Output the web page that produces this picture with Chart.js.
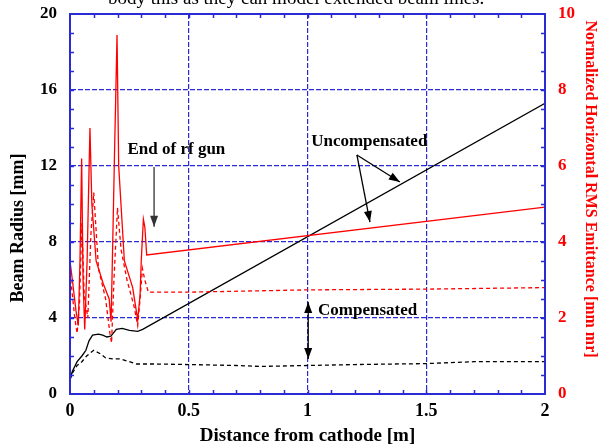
<!DOCTYPE html>
<html>
<head>
<meta charset="utf-8">
<script src="https://cdn.jsdelivr.net/npm/chart.js@4.4.0/dist/chart.umd.min.js"></script>
<style>
  body { margin: 0; background: #fff; }
  #wrap { position: relative; width: 606px; height: 448px; overflow: hidden; }
  #kutipan { position: absolute; left: 108px; top: -12px; font: 19px/20px "Liberation Serif", serif; white-space: nowrap; z-index: 2; }
</style>
</head>
<body>
<div id="wrap">
  <div id="kutipan">body this as they can model extended beam lines.</div>
  <canvas id="beamChart" width="606" height="448"></canvas>
</div>
<script>
// Data
const xTicks = [0, 0.5, 1, 1.5, 2];
const yTicks = [0, 4, 8, 12, 16, 20];
const y2Ticks = [0, 2, 4, 6, 8, 10];

// Emitansi tanpa kompensasi (sumbu kanan)
const xEmitUncomp = [0, 0.01, 0.025, 0.035, 0.042, 0.049, 0.055, 0.062, 0.072, 0.084, 0.092, 0.11, 0.14, 0.165, 0.173, 0.18, 0.188, 0.198, 0.205, 0.229, 0.264, 0.285, 0.295, 0.30, 0.309, 0.315, 0.323, 2.0];
const yEmitUncomp = [3.5, 3.0, 2.2, 1.8, 3.5, 6.2, 3.0, 1.7, 3.5, 7.0, 5.0, 3.5, 2.9, 2.5, 1.9, 4.0, 6.5, 9.45, 6.0, 3.5, 2.8, 1.95, 2.6, 3.5, 4.6, 4.4, 3.66, 4.92];

// Emitansi dengan kompensasi (sumbu kanan)
const xEmitComp = [0, 0.01, 0.02, 0.03, 0.04, 0.05, 0.06, 0.075, 0.088, 0.1, 0.12, 0.15, 0.168, 0.175, 0.185, 0.2, 0.215, 0.24, 0.27, 0.285, 0.295, 0.305, 0.315, 0.33, 0.5, 1.0, 1.5, 2.0];
const yEmitComp = [3.2, 2.6, 2.0, 1.6, 2.4, 4.5, 2.6, 2.0, 4.2, 5.3, 3.3, 2.5, 1.6, 1.35, 3.0, 4.9, 3.8, 3.0, 2.3, 1.8, 2.5, 3.3, 3.0, 2.68, 2.68, 2.74, 2.76, 2.8];

// Radius berkas tanpa kompensasi (sumbu kiri)
const xRadUncomp = [0, 0.01, 0.03, 0.05, 0.067, 0.08, 0.095, 0.12, 0.138, 0.155, 0.172, 0.195, 0.22, 0.25, 0.285, 0.306, 2.0];
const yRadUncomp = [0.75, 1.2, 1.7, 2.0, 2.3, 2.8, 3.1, 3.15, 3.1, 3.0, 3.05, 3.4, 3.45, 3.35, 3.3, 3.4, 15.3];

// Radius berkas dengan kompensasi (sumbu kiri)
const xRadComp = [0, 0.01, 0.03, 0.05, 0.07, 0.1, 0.13, 0.15, 0.18, 0.21, 0.25, 0.28, 0.35, 0.5, 0.7, 0.8, 1.0, 1.2, 1.5, 1.7, 2.0];
const yRadComp = [0.75, 1.1, 1.5, 1.7, 2.0, 2.3, 2.1, 1.9, 1.85, 1.85, 1.7, 1.58, 1.58, 1.55, 1.5, 1.45, 1.5, 1.55, 1.6, 1.7, 1.7];

// Anotasi (koordinat data, sumbu kiri)
const teksAnotasi = [
  { teks: 'End of rf gun', x: 0.448, y: 12.84 },
  { teks: 'Uncompensated', x: 1.26, y: 13.26 },
  { teks: 'Compensated', x: 1.253, y: 4.37 }
];
const panahAnotasi = [
  { x1: 0.354, y1: 11.95, x2: 0.354, y2: 8.8, warna: '#333', ganda: false },
  { x1: 1.208, y1: 12.58, x2: 1.389, y2: 11.16, warna: '#000', ganda: false },
  { x1: 1.208, y1: 12.58, x2: 1.263, y2: 9.05, warna: '#000', ganda: false },
  { x1: 1.003, y1: 4.84, x2: 1.003, y2: 1.84, warna: '#000', ganda: true }
];

const judulKiri = 'Beam Radius [mm]';
const judulKanan = 'Normalized Horizontal RMS Emittance [mm mr]';

const BIRU = '#2b2bd6';
const FONT = '"Liberation Serif", "Times New Roman", serif';

function gabung(xs, ys) {
  return xs.map((x, i) => ({ x: x, y: ys[i] }));
}

function gambarPanah(ctx, ax, ay, bx, by) {
  const sudut = Math.atan2(by - ay, bx - ax);
  const p = 11, l = 4;
  ctx.beginPath();
  ctx.moveTo(bx, by);
  ctx.lineTo(bx - p * Math.cos(sudut) + l * Math.sin(sudut), by - p * Math.sin(sudut) - l * Math.cos(sudut));
  ctx.lineTo(bx - p * Math.cos(sudut) - l * Math.sin(sudut), by - p * Math.sin(sudut) + l * Math.cos(sudut));
  ctx.closePath();
  ctx.fill();
}

const pluginHiasan = {
  id: 'hiasan',
  afterDraw(chart) {
    const { ctx, chartArea: a, scales } = chart;
    const sx = scales.x, sy = scales.y, sy2 = scales.y2;
    ctx.save();
    // Bingkai
    ctx.strokeStyle = BIRU;
    ctx.lineWidth = 2;
    ctx.strokeRect(a.left, a.top, a.right - a.left, a.bottom - a.top);
    // Tick kecil ke dalam
    ctx.lineWidth = 1.5;
    ctx.beginPath();
    for (let v = 0.1; v < 2; v += 0.1) {
      const px = Math.round(sx.getPixelForValue(v)) + 0.5;
      ctx.moveTo(px, a.bottom); ctx.lineTo(px, a.bottom - 4);
      ctx.moveTo(px, a.top); ctx.lineTo(px, a.top + 4);
    }
    for (let v = 1; v < 20; v += 1) {
      const py = Math.round(sy.getPixelForValue(v)) + 0.5;
      ctx.moveTo(a.left, py); ctx.lineTo(a.left + 4, py);
    }
    for (let v = 0.5; v < 10; v += 0.5) {
      const py = Math.round(sy2.getPixelForValue(v)) + 0.5;
      ctx.moveTo(a.right, py); ctx.lineTo(a.right - 4, py);
    }
    ctx.stroke();

    // Judul sumbu Y
    ctx.textAlign = 'center';
    ctx.textBaseline = 'middle';
    ctx.font = 'bold 18px ' + FONT;
    ctx.fillStyle = '#000';
    ctx.save();
    ctx.translate(18, 228);
    ctx.rotate(-Math.PI / 2);
    ctx.fillText(judulKiri, 0, 0);
    ctx.restore();
    ctx.font = 'bold 16px ' + FONT;
    ctx.fillStyle = '#ff0000';
    ctx.save();
    ctx.translate(590, 189);
    ctx.rotate(Math.PI / 2);
    ctx.fillText(judulKanan, 0, 0);
    ctx.restore();

    // Teks anotasi
    ctx.fillStyle = '#000';
    ctx.font = 'bold 17px ' + FONT;
    teksAnotasi.forEach(t => {
      ctx.fillText(t.teks, sx.getPixelForValue(t.x), sy.getPixelForValue(t.y));
    });

    // Panah
    panahAnotasi.forEach(p => {
      const ax = sx.getPixelForValue(p.x1), ay = sy.getPixelForValue(p.y1);
      const bx = sx.getPixelForValue(p.x2), by = sy.getPixelForValue(p.y2);
      ctx.strokeStyle = p.warna;
      ctx.fillStyle = p.warna;
      ctx.lineWidth = 1.3;
      ctx.beginPath();
      ctx.moveTo(ax, ay); ctx.lineTo(bx, by);
      ctx.stroke();
      gambarPanah(ctx, ax, ay, bx, by);
      if (p.ganda) gambarPanah(ctx, bx, by, ax, ay);
    });
    ctx.restore();
  }
};

function setTicks(nilai) {
  return function (scale) {
    scale.ticks = nilai.map(v => ({ value: v }));
  };
}

function lebarTetap(w) {
  return function (s) {
    s.width = w;
    s.paddingTop = 0;
    s.paddingBottom = 0;
  };
}

const ctx = document.getElementById('beamChart').getContext('2d');
const beamChart = new Chart(ctx, {
  type: 'scatter',
  data: {
    datasets: [
      { label: 'Emittance uncompensated', data: gabung(xEmitUncomp, yEmitUncomp), yAxisID: 'y2', borderColor: '#ff0000', borderWidth: 1.3 },
      { label: 'Emittance compensated', data: gabung(xEmitComp, yEmitComp), yAxisID: 'y2', borderColor: '#ff0000', borderWidth: 1.3, borderDash: [4, 3] },
      { label: 'Radius uncompensated', data: gabung(xRadUncomp, yRadUncomp), yAxisID: 'y', borderColor: '#000', borderWidth: 1.3 },
      { label: 'Radius compensated', data: gabung(xRadComp, yRadComp), yAxisID: 'y', borderColor: '#000', borderWidth: 1.3, borderDash: [4, 3] }
    ]
  },
  options: {
    responsive: false,
    animation: false,
    showLine: true,
    elements: { point: { radius: 0 }, line: { tension: 0 } },
    layout: { padding: { top: 14, left: 0, right: 0, bottom: 0 } },
    plugins: { legend: { display: false }, tooltip: { enabled: false } },
    scales: {
      x: {
        type: 'linear', min: 0, max: 2,
        afterBuildTicks: setTicks(xTicks),
        afterFit(s) { s.height = 54; s.paddingLeft = 0; s.paddingRight = 0; },
        grid: { color: BIRU, lineWidth: 1.2, drawTicks: false },
        border: { color: BIRU, width: 2, dash: [5, 2] },
        ticks: { color: '#000', font: { family: FONT, size: 18, weight: 'bold' }, padding: 7, callback: v => String(v) },
        title: { display: true, text: 'Distance from cathode [m]', color: '#000', font: { family: FONT, size: 19, weight: 'bold' }, padding: { top: 0, bottom: 1 } }
      },
      y: {
        position: 'left', min: 0, max: 20,
        afterBuildTicks: setTicks(yTicks),
        afterFit: lebarTetap(70),
        grid: { color: BIRU, lineWidth: 1.2, drawTicks: false },
        border: { color: BIRU, width: 2, dash: [5, 2] },
        ticks: { color: '#000', font: { family: FONT, size: 17, weight: 'bold' }, padding: 13 }
      },
      y2: {
        position: 'right', min: 0, max: 10,
        afterBuildTicks: setTicks(y2Ticks),
        afterFit: lebarTetap(61),
        grid: { display: false, drawTicks: false },
        border: { color: BIRU, width: 2 },
        ticks: { color: '#ff0000', font: { family: FONT, size: 17, weight: 'bold' }, padding: 13 }
      }
    }
  },
  plugins: [pluginHiasan]
});
</script>
</body>
</html>
